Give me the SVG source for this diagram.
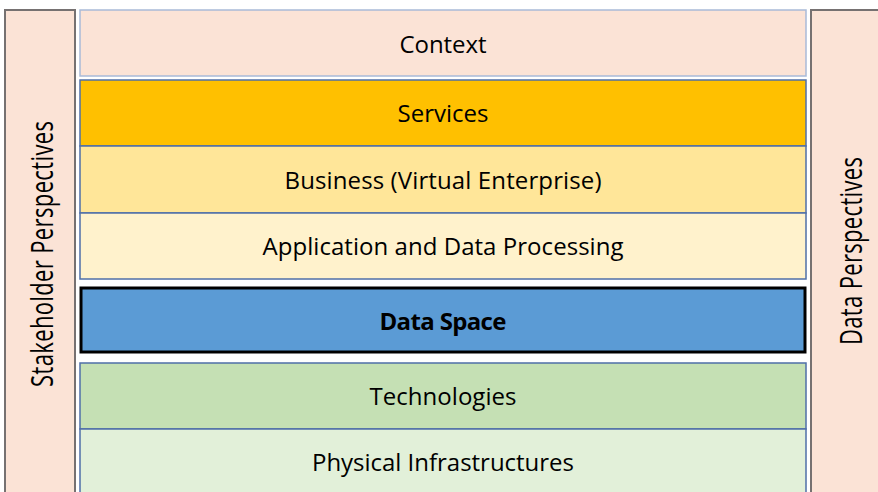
<svg xmlns="http://www.w3.org/2000/svg" width="878" height="492" viewBox="0 0 878 492">
<style>
.lbl{font-family:"Open Sans","Liberation Sans",sans-serif;font-size:24px;fill:#000;text-anchor:middle}
.vlbl{font-family:"Open Sans","Liberation Sans",sans-serif;font-size:22px;fill:#000;text-anchor:middle}
.b{font-weight:bold}
.side{fill:#FBE3D6;stroke:#767171;stroke-width:2}
.layer{stroke:#4F6FA8;stroke-width:1.5}
</style>
<rect width="878" height="492" fill="#ffffff"/>
<g id="stakeholder-perspectives">
<rect class="side" x="5" y="10" width="70" height="500"/>
<text class="vlbl" transform="translate(53,254) rotate(-90) scale(1,1.4)" textLength="266">Stakeholder Perspectives</text>
</g>
<g id="data-perspectives">
<rect class="side" x="811" y="10" width="80" height="500"/>
<text class="vlbl" transform="translate(862,251) rotate(-90) scale(1,1.4)" textLength="188">Data Perspectives</text>
</g>
<g id="context">
<rect x="80" y="10" width="726" height="66" fill="#FBE3D6" stroke="#A9BAD8" stroke-width="1.5"/>
<text class="lbl" x="443" y="53" textLength="87">Context</text>
</g>
<g id="services">
<rect class="layer" x="80" y="80" width="726" height="66" fill="#FFC000"/>
<text class="lbl" x="443" y="122" textLength="91">Services</text>
</g>
<g id="business">
<rect class="layer" x="80" y="146" width="726" height="67" fill="#FFE699"/>
<text class="lbl" x="443" y="189" textLength="317">Business (Virtual Enterprise)</text>
</g>
<g id="application">
<rect class="layer" x="80" y="213" width="726" height="66" fill="#FFF2CC"/>
<text class="lbl" x="443" y="255" textLength="361">Application and Data Processing</text>
</g>
<g id="data-space">
<rect x="81" y="288" width="724" height="64" fill="#5B9BD5" stroke="#000" stroke-width="3"/>
<text class="lbl b" x="443" y="330" textLength="127">Data Space</text>
</g>
<g id="technologies">
<rect class="layer" x="80" y="363" width="726" height="66" fill="#C5E0B4"/>
<text class="lbl" x="443" y="405" textLength="147">Technologies</text>
</g>
<g id="physical-infrastructures">
<rect class="layer" x="80" y="429" width="726" height="80" fill="#E2F0D9"/>
<text class="lbl" x="443" y="471" textLength="262">Physical Infrastructures</text>
</g>
<g id="connectors"/>
</svg>
